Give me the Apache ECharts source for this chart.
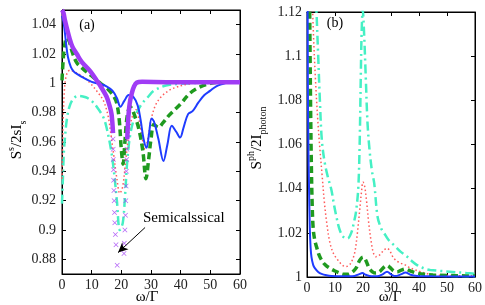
<!DOCTYPE html>
<html><head><meta charset="utf-8">
<script src="https://cdn.jsdelivr.net/npm/echarts@6/dist/echarts.min.js"></script>
<style>html,body{margin:0;padding:0;background:#fff}#c{width:485px;height:305px}</style>
</head><body><div id="c"></div>
<script>
// ---------- Panel (a) data ----------
const aBlueW = [0,0.5,1,1.5,2,3,4,5,7,10,13,15,17,18.5,19.7,21,22.5,24,25.5,26.5,27.5,28.5,29.3,30.2,31,32.5,34.2,35.5,37,38.5,39.8,41,42.5,44,46,48,50,52,54,56,60];
const aBlueV = [1.046,1.042,1.034,1.025,1.018,1.011,1.008,1.0065,1.004,1.001,0.9995,0.998,0.995,0.99,0.984,0.988,0.992,0.991,0.985,0.975,0.962,0.956,0.965,0.976,0.974,0.962,0.947,0.958,0.971,0.967,0.963,0.97,0.979,0.981,0.987,0.992,0.995,0.998,0.9995,1.0005,1.001];
const aGreenW = [0,0.4,0.9,1.6,2.4,3.5,5,7,10,13,15.5,17.5,18.5,19.3,20,20.6,21.2,22,23,24.5,26,27.3,28.3,29.2,30,31,32.5,34,36,38,40,43,46,50,55,60];
const aGreenV = [1.002,1.016,1.026,1.031,1.029,1.021,1.014,1.01,1.005,1.0,0.996,0.991,0.986,0.975,0.955,0.945,0.96,0.978,0.984,0.978,0.968,0.953,0.935,0.948,0.962,0.972,0.97,0.973,0.978,0.982,0.986,0.993,0.997,1.0,1.001,1.001];
const aRedW = [0,0.4,0.8,1.3,2,2.8,4,6,8,10,12,14,15.5,16.5,17.5,18.5,19.5,20.5,21.5,22.5,23.5,25,26,27,28,29,30,31.5,33.5,36,38,42,46,60];
const aRedV = [0.935,0.975,0.995,1.004,1.008,1.009,1.008,1.006,1.003,0.999,0.994,0.988,0.978,0.965,0.95,0.935,0.925,0.93,0.948,0.965,0.976,0.982,0.975,0.963,0.955,0.963,0.975,0.985,0.991,0.995,0.997,0.9993,1.0005,1.001];
const aCyanW = [0,0.3,0.6,1,1.6,2.5,3.8,5.5,8,10,11.7,13.9,15,16.5,17.5,18.5,19.5,20.5,21.3,22,23,24.5,26.9,29,31,35,40,50,60];
const aCyanV = [0.918,0.935,0.952,0.963,0.975,0.984,0.9895,0.9915,0.9905,0.988,0.984,0.977,0.97,0.955,0.94,0.92,0.9,0.905,0.925,0.947,0.965,0.977,0.986,0.9907,0.995,0.9985,0.9997,1.0005,1.001];
const aPurpleW = [0,0.5,1,1.6,2.5,3.5,5,6.5,8.3,10,11.7,13.3,15,16,16.7,17.2,null,22.0,22.3,22.8,23.5,24.3,25.2,27,35,45,60];
const aPurpleV = [1.05,1.048,1.043,1.038,1.031,1.025,1.02,1.015,1.011,1.007,1.002,0.997,0.991,0.985,0.979,0.966,null,0.962,0.975,0.986,0.993,0.998,1.0005,1.001,1.0008,1.0008,1.0008];
const aSemiDipW = [17.2,17.25,17.3,17.35,17.4,17.5,17.6,17.7,17.8,18.0,18.2,18.6,22.0,21.9,21.8,21.7,21.6,21.5,21.4,21.2,21.0,20.9];
const aSemiDipV = [0.962,0.955,0.948,0.941,0.934,0.927,0.92,0.912,0.905,0.897,0.89,0.876,0.962,0.955,0.948,0.94,0.93,0.92,0.91,0.9,0.891,0.884];
const aYTicks = [0.88,0.9,0.92,0.94,0.96,0.98,1,1.02,1.04];

// ---------- Panel (b) data ----------
const bBlueW = [0.1,0.3,0.5,0.7,1.0,1.3,1.6,2.2,2.8,4,5.2,7,8.8,12,15,17,18.5,19.8,21,23,25,27,28.6,30,31.6,33.5,35.2,37,39.3,45,60];
const bBlueV = [1.2,1.09,1.058,1.042,1.022,1.013,1.009,1.0055,1.004,1.0023,1.0014,1.0008,1.0005,1.0003,1.0003,1.0005,1.0012,1.0018,1.001,1.0003,1.0003,1.0012,1.0024,1.0012,1.0004,1.0012,1.002,1.001,1.0005,1.0003,1.0002];
const bGreenW = [0.9,1.1,1.3,1.5,1.8,2.2,2.8,3.4,4.3,5.2,6.5,8.1,10,11.6,13,14.5,16,17.5,18.8,20,21,22.2,23.5,24.6,26,27.5,28.5,29.5,31,32.2,33.5,35,37,39.2,42,45,50,56.8,60];
const bGreenV = [1.13,1.1,1.075,1.055,1.035,1.022,1.0165,1.0137,1.01,1.0077,1.0055,1.004,1.0027,1.0018,1.0012,1.0012,1.002,1.004,1.0075,1.009,1.0075,1.004,1.0022,1.0018,1.0025,1.0045,1.0052,1.0045,1.0027,1.0024,1.003,1.0036,1.0027,1.0018,1.0012,1.0009,1.0007,1.0005,1.0005];
const bRedW = [1.8,2.3,3.0,3.8,4.6,5.4,6.2,7.0,8.1,9.5,11,12.5,13.8,15.2,16.3,17.2,18,18.8,19.5,20,20.6,21.3,22,22.8,23.7,24.6,25.5,26.5,27.5,28.6,29.5,30.5,31.5,33,35,36.3,38,40.5,43,45,50,60];
const bRedV = [1.13,1.11,1.09,1.072,1.058,1.046,1.034,1.025,1.016,1.0105,1.0077,1.0055,1.0047,1.0055,1.008,1.012,1.02,1.03,1.039,1.043,1.041,1.034,1.025,1.017,1.011,1.0092,1.0095,1.0108,1.0122,1.013,1.012,1.0095,1.0078,1.0065,1.0055,1.0045,1.0035,1.0024,1.0015,1.001,1.0007,1.0005];
const bCyanW = [3.0,3.4,4.0,4.6,5.3,6.3,7.5,8.7,9.6,10.5,11.5,12.5,13.5,14.5,15.8,16.8,17.5,18.3,18.8,19.2,19.5,19.9,20.4,21,21.6,22.3,23.2,24,25.2,26.5,27.5,29,31,33.4,35.8,37,39.3,42,44,48,51,56.9,60];
const bCyanV = [1.135,1.12,1.1,1.08,1.062,1.052,1.045,1.0395,1.033,1.0273,1.022,1.019,1.0177,1.0175,1.02,1.025,1.0295,1.04,1.06,1.09,1.11,1.121,1.11,1.09,1.07,1.058,1.048,1.0425,1.0273,1.022,1.02,1.017,1.0145,1.0115,1.0092,1.0077,1.0054,1.0038,1.0032,1.0027,1.0024,1.0018,1.0015];

const xTicks = [0,10,20,30,40,50,60];

function zip(w, v){ return w.map((x,i)=> x===null ? [null,null] : [x, v[i]]); }

const SERIF = 'Liberation Serif';
const C = {blue:'#1f3cff', green:'#1f9a1f', red:'#ff5a5a', cyan:'#45f0c4', purple:'#a03cf5'};

function xAx(grid, pos, showLabel){
  return {type:'value', gridIndex:grid, position:pos, min:0, max:60, interval:10,
    axisLine:{show:true, onZero:false, lineStyle:{color:'#000', width:1}},
    axisTick:{show:true, inside:true, length:4, lineStyle:{color:'#000'}},
    axisLabel:{show:showLabel, color:'#222', fontFamily:SERIF, fontSize:14, margin:4},
    splitLine:{show:false}};
}
function yAxA(pos, showLabel){
  return {type:'value', gridIndex:0, position:pos, min:0.87, max:1.05,
    axisLine:{show:true, onZero:false, lineStyle:{color:'#000', width:1}},
    axisTick:{show:true, inside:true, length:4, customValues:aYTicks, lineStyle:{color:'#000'}},
    axisLabel:{show:showLabel, customValues:aYTicks, color:'#222', fontFamily:SERIF, fontSize:14, margin:6},
    splitLine:{show:false}};
}
function yAxB(pos, showLabel){
  return {type:'value', gridIndex:1, position:pos, min:1, max:1.12, interval:0.02,
    axisLine:{show:true, onZero:false, lineStyle:{color:'#000', width:1}},
    axisTick:{show:true, inside:true, length:4, lineStyle:{color:'#000'}},
    axisLabel:{show:showLabel, color:'#222', fontFamily:SERIF, fontSize:14, margin:5},
    splitLine:{show:false}};
}
function line(name, data, xi, yi, color, width, type, z){
  return {name, type:'line', xAxisIndex:xi, yAxisIndex:yi, data, showSymbol:false, symbol:'none',
    smooth:0.35, connectNulls:false, z:z||2, clip:true,
    lineStyle:{color, width, type, cap:'butt'}};
}
const xMark = 'path://M0,1L1,0L5,4L9,0L10,1L6,5L10,9L9,10L5,6L1,10L0,9L4,5Z';

const chart = echarts.init(document.getElementById('c'), null, {renderer:'canvas'});
chart.setOption({
  animation:false,
  backgroundColor:'#fff',
  grid:[
    {left:62, right:245, top:10, bottom:31, show:true, borderColor:'#000', borderWidth:1},
    {left:307, right:8, top:12, bottom:28, show:true, borderColor:'#000', borderWidth:1}
  ],
  xAxis:[xAx(0,'bottom',true), xAx(0,'top',false), xAx(1,'bottom',true), xAx(1,'top',false)],
  yAxis:[yAxA('left',true), yAxA('right',false), yAxB('left',true), yAxB('right',false)],
  series:[
    line('a-cyan', zip(aCyanW,aCyanV), 0,0, C.cyan, 2.5, [9,4,2,4], 2),
    line('a-red', zip(aRedW,aRedV), 0,0, C.red, 1.5, [1.5,2.5], 3),
    line('a-green', zip(aGreenW,aGreenV), 0,0, C.green, 3.5, [7,4], 4),
    line('a-blue', zip(aBlueW,aBlueV), 0,0, C.blue, 2, 'solid', 5),
    Object.assign(line('a-purple', zip(aPurpleW,aPurpleV), 0,0, C.purple, 4.5, 'solid', 6), {
      markLine:{silent:true, symbol:['none','arrow'], symbolSize:[7,10], label:{show:false},
        lineStyle:{color:'#000', width:1, type:'solid'},
        data:[[{coord:[28,0.9017]},{coord:[18.9,0.8846]}]]}
    }),
    {name:'a-semi-dip', type:'scatter', xAxisIndex:0, yAxisIndex:0, data:zip(aSemiDipW,aSemiDipV),
      symbol:xMark, symbolSize:5, itemStyle:{color:C.purple}, z:7},
    line('b-cyan', zip(bCyanW,bCyanV), 2,2, C.cyan, 2.5, [9,4,2,4], 2),
    line('b-red', zip(bRedW,bRedV), 2,2, C.red, 1.5, [1.5,2.5], 3),
    line('b-green', zip(bGreenW,bGreenV), 2,2, C.green, 3.5, [7,4], 4),
    line('b-blue', zip(bBlueW,bBlueV), 2,2, C.blue, 2, 'solid', 5)
  ],
  graphic:[
    {type:'text', x:87, y:25, style:{text:'(a)', font:'14px "Liberation Serif"', fill:'#000', align:'center', verticalAlign:'middle'}},
    {type:'text', x:335, y:23, style:{text:'(b)', font:'14px "Liberation Serif"', fill:'#000', align:'center', verticalAlign:'middle'}},
    {type:'text', x:143, y:218, style:{text:'Semicalssical', font:'15px "Liberation Serif"', fill:'#000', align:'left', verticalAlign:'middle'}},
    {type:'text', x:147, y:297, style:{text:'ω/Γ', font:'15px "Liberation Serif"', fill:'#000', align:'center', verticalAlign:'middle'}},
    {type:'text', x:390, y:297, style:{text:'ω/Γ', font:'15px "Liberation Serif"', fill:'#000', align:'center', verticalAlign:'middle'}},
    {type:'text', x:17, y:140, rotation:Math.PI/2, style:{
      text:'{m|S}{sup|s}{m|/2sI}{sub|s}', align:'center', verticalAlign:'middle', fill:'#000',
      rich:{m:{fontFamily:SERIF, fontSize:15, lineHeight:22, verticalAlign:'middle'},
            sup:{fontFamily:SERIF, fontSize:10, lineHeight:22, verticalAlign:'top'},
            sub:{fontFamily:SERIF, fontSize:10, lineHeight:22, verticalAlign:'bottom'}}}},
    {type:'text', x:257, y:138, rotation:Math.PI/2, style:{
      text:'{m|S}{sup|ph}{m|/2I}{sub|photon}', align:'center', verticalAlign:'middle', fill:'#000',
      rich:{m:{fontFamily:SERIF, fontSize:15, lineHeight:22, verticalAlign:'middle'},
            sup:{fontFamily:SERIF, fontSize:10, lineHeight:22, verticalAlign:'top'},
            sub:{fontFamily:SERIF, fontSize:10, lineHeight:22, verticalAlign:'bottom'}}}}
  ]
});
</script></body></html>
